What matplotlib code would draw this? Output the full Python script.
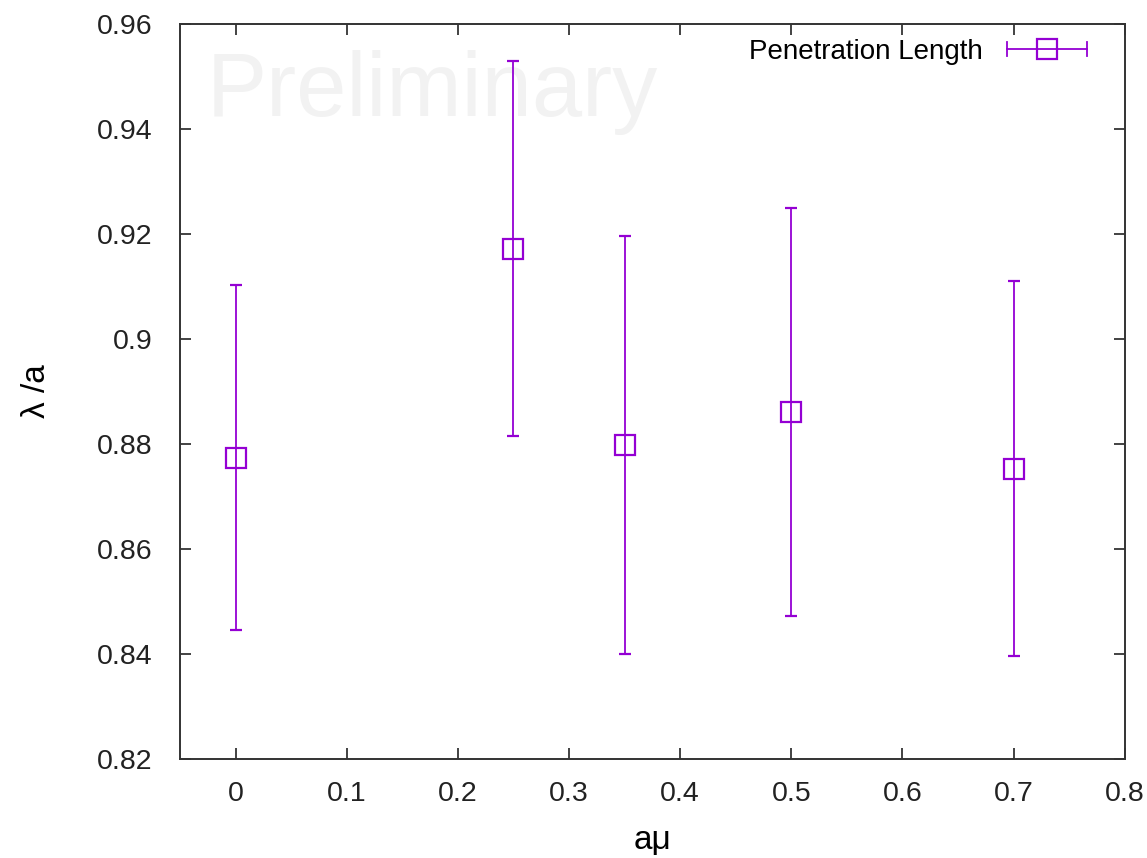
import numpy as np
import matplotlib
matplotlib.use("Agg")
import matplotlib.pyplot as plt
from matplotlib.legend_handler import HandlerBase
from matplotlib.lines import Line2D

plt.rcParams['font.family'] = ['Liberation Sans', 'DejaVu Sans']

# penetration length vs chemical potential
a_mu = [0.0, 0.25, 0.35, 0.5, 0.7]
lam = [0.8774, 0.9172, 0.8798, 0.8861, 0.8753]
lam_err = [0.0328, 0.0357, 0.0398, 0.0388, 0.0357]

xticks = [0, 0.1, 0.2, 0.3, 0.4, 0.5, 0.6, 0.7, 0.8]
xlabels = ["0", "0.1", "0.2", "0.3", "0.4", "0.5", "0.6", "0.7", "0.8"]
yticks = [0.82, 0.84, 0.86, 0.88, 0.9, 0.92, 0.94, 0.96]
ylabels = ["0.82", "0.84", "0.86", "0.88", "0.9", "0.92", "0.94", "0.96"]

color = "#9400D3"
msize = 14


class HorizontalErrorHandler(HandlerBase):
    # gnuplot-style key sample: horizontal bar with end caps and the point symbol
    def create_artists(self, legend, orig_handle, xdescent, ydescent,
                       width, height, fontsize, trans):
        y = height / 2 - ydescent
        x0, x1 = -xdescent, width - xdescent
        cap = 0.35 * height
        arts = [
            Line2D([x0, x1], [y, y], color=color, lw=1.3),
            Line2D([x0, x0], [y - cap, y + cap], color=color, lw=1.3),
            Line2D([x1, x1], [y - cap, y + cap], color=color, lw=1.3),
            Line2D([(x0 + x1) / 2], [y], marker="s", ms=msize, mfc="none",
                   mec=color, mew=1.6, ls="none"),
        ]
        for a in arts:
            a.set_transform(trans)
        return arts


fig = plt.figure(figsize=(11.47, 8.58), dpi=100)
ax = fig.add_axes([0.1569, 0.1154, 0.8237, 0.8566])

ax.text(0.028, 0.965, "Preliminary", transform=ax.transAxes, fontsize=65,
        color="#f2f2f2", ha="left", va="top", zorder=0)

eb = ax.errorbar(a_mu, lam, yerr=lam_err, fmt="s", color=color, mfc="none",
                 mec=color, ms=msize, mew=1.6, elinewidth=1.3, capsize=4,
                 capthick=1.3, label="Penetration Length", zorder=3)

ax.set_xlim(-0.05, 0.8)
ax.set_ylim(0.82, 0.96)
ax.set_xticks(xticks)
ax.set_xticklabels(xlabels)
ax.set_yticks(yticks)
ax.set_yticklabels(ylabels)
ax.tick_params(direction="in", length=8, width=1.2, top=True, right=True,
               labelsize=20.5, colors="#222222")
ax.tick_params(axis="y", pad=20)
ax.tick_params(axis="x", pad=16)
for s in ax.spines.values():
    s.set_linewidth(1.4)
    s.set_color("#333333")

ax.set_xlabel("a\u03bc", fontsize=24, labelpad=13)
ax.set_ylabel("\u03bb /a", fontsize=24, labelpad=32)

leg = ax.legend([eb], ["Penetration Length"], loc="upper right",
                frameon=False, fontsize=20, markerfirst=False,
                handlelength=2.9, handletextpad=0.85, borderaxespad=0.0,
                bbox_to_anchor=(0.972, 0.995),
                handler_map={type(eb): HorizontalErrorHandler()})

fig.savefig("out.png", dpi=100)
